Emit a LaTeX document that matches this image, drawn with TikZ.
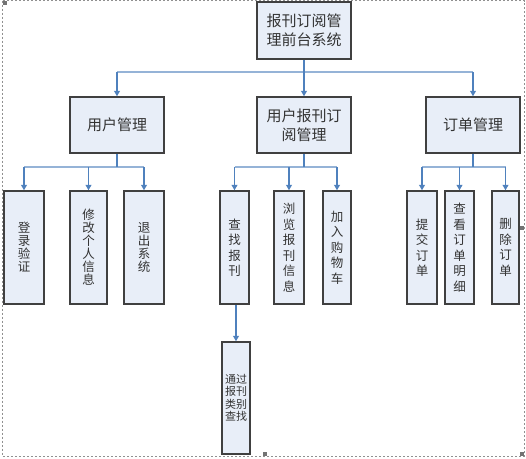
\documentclass[tikz,border=0pt]{standalone}
\usepackage{fontspec}
\newfontfamily\cjk{Noto Sans CJK SC}
\usetikzlibrary{arrows.meta,calc}
\definecolor{boxfill}{HTML}{E8EEF8}
\definecolor{boxline}{HTML}{404040}
\definecolor{conn}{HTML}{4F81BD}
\definecolor{connlight}{HTML}{95B3D7}
\definecolor{framec}{HTML}{909090}
\tikzset{
  x=1pt,y=-1pt,
  box/.style={draw=boxline,fill=boxfill,line width=1.5pt,inner sep=0pt,align=center,font=\cjk,text=black!80},
  bigbox/.style={box,minimum width=94pt,minimum height=56pt,font=\cjk\fontsize{15}{19}\selectfont},
  leafbox/.style={box,minimum height=113pt,font=\cjk\fontsize{12.5}{15.5}\selectfont},
  tightleaf/.style={leafbox,font=\cjk\fontsize{12.5}{13}\selectfont},
  arr/.style={draw=conn,line width=1.1pt,-{Triangle[width=6pt,length=5.5pt]}},
  busline/.style={draw=connlight,line width=1.1pt},
  stem/.style={draw=conn,line width=1.1pt},
  handle/.style={fill=framec!80!black,draw=none}
}
\begin{document}
\begin{tikzpicture}
\useasboundingbox (0,0) rectangle (526,458);
% frame
\draw[framec,line width=0.7pt,dash pattern=on 2pt off 2pt] (2.5,0.5) rectangle (524,456);
\fill[handle] (2.7,0.7) rectangle (6.7,4.7);
\fill[handle] (262,1) rectangle (266,5);
\fill[handle] (520,226) rectangle (524,230);
\fill[handle] (2.5,226) rectangle (6.5,230);
\fill[handle] (263,452) rectangle (267,456);
\fill[handle] (520,452) rectangle (524,456);

% nodes
\node[bigbox,minimum height=57pt] (top) at (304,30.5) {报刊订阅管\\理前台系统};
\node[bigbox] (um) at (117,125) {用户管理};
\node[bigbox] (bm) at (304,125) {用户报刊订\\阅管理};
\node[bigbox] (om) at (473,125) {订单管理};

\node[tightleaf,minimum width=40pt] (a1) at (24,247.5) {登\\录\\验\\证};
\node[tightleaf,minimum width=37pt] (a2) at (88.5,247.5) {修\\改\\个\\人\\信\\息};
\node[tightleaf,minimum width=40pt] (a3) at (144,247.5) {退\\出\\系\\统};

\node[leafbox,minimum width=29pt] (b1) at (234.5,247.5) {查\\找\\报\\刊};
\node[leafbox,minimum width=30pt] (b2) at (289,247.5) {浏\\览\\报\\刊\\信\\息};
\node[leafbox,minimum width=28pt] (b3) at (337,247.5) {加\\入\\购\\物\\车};

\node[leafbox,minimum width=30pt] (c1) at (422,247.5) {提\\交\\订\\单};
\node[leafbox,minimum width=29pt] (c2) at (459.5,247.5) {查\\看\\订\\单\\明\\细};
\node[leafbox,minimum width=27pt] (c3) at (505.5,247.5) {删\\除\\订\\单};

\node[box,minimum width=28pt,minimum height=112pt,font=\cjk\fontsize{11}{12.5}\selectfont] (d1) at (236,398) {通过\\报刊\\类别\\查找};

% bus coordinates
\coordinate (bus0) at (304,72);
\coordinate (busA) at (117,167);
\coordinate (busB) at (304,167);
\coordinate (busC) at (473,167);

% buses
\draw[busline] (um.north |- bus0) -- (om.north |- bus0);
\draw[busline] (a1.north |- busA) -- (a3.north |- busA);
\draw[busline] (b1.north |- busB) -- (b3.north |- busB);
\draw[busline] (c1.north |- busC) -- (c3.north |- busC);

% connectors
\draw[stem] (top.south) -- (bus0);
\foreach \n in {um,bm,om} \draw[arr] (\n.north |- bus0) -- (\n.north);
\draw[stem] (um.south) -- (busA);
\foreach \n in {a1,a2,a3} \draw[arr] (\n.north |- busA) -- (\n.north);
\draw[stem] (bm.south) -- (busB);
\foreach \n in {b1,b2,b3} \draw[arr] (\n.north |- busB) -- (\n.north);
\draw[stem] (om.south) -- (busC);
\foreach \n in {c1,c2,c3} \draw[arr] (\n.north |- busC) -- (\n.north);
\draw[arr] (b1.south -| d1.north) -- (d1.north);
\end{tikzpicture}
\end{document}
